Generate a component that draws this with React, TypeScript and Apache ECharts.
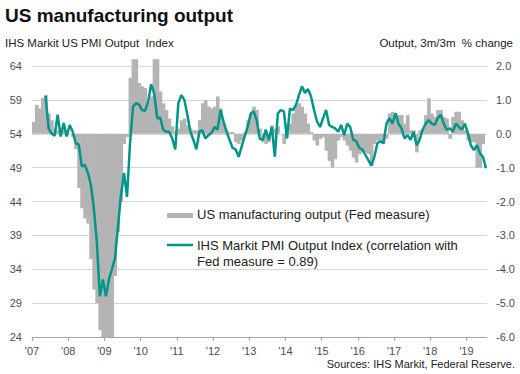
import React, { useEffect, useRef } from "react";
import * as echarts from "echarts";

// Fed manufacturing output, 3m/3m % change, monthly from Jan 2007 (right axis)
const fedStartYear = 2007;
const fedOutput = [
  // 2007
  0.35, 0.85, 0.75, 1.05, 1.15, 0.6, 0.4, 0.15, 0.1, 0.05, 0.1, 0.05,
  // 2008
  0.0, -0.1, -0.45, -1.6, -2.2, -2.5, -2.65, -3.7, -4.6, -5.0, -5.8, -6.0,
  // 2009
  -6.0, -6.0, -6.0, -4.2, -2.9, -2.0, -0.3, -0.1, 1.65, 2.2, 2.2, 1.5,
  // 2010
  1.4, 1.35, 0.9, 1.1, 2.2, 2.2, 1.25, 0.9, 0.7, 0.45, 0.22, 0.07,
  // 2011
  0.15, 0.4, 0.45, 0.25, 0.15, 0.1, 0.1, 0.4, 0.9, 1.0, 0.8, 0.75,
  // 2012
  0.8, 1.1, 0.75, 0.3, 0.1, 0.05, 0.05, -0.25, -0.3, -0.2, 0.05, 0.4,
  // 2013
  0.6, 0.8, 0.7, 0.15, -0.25, -0.3, -0.25, 0.25, 0.15, 0.22, 0.0, -0.3,
  // 2014
  -0.1, 0.3, 0.6, 0.8, 0.9, 0.8, 0.6, 0.3, 0.05, -0.2, -0.35, -0.15,
  // 2015
  -0.1, -0.5, -0.8, -1.0, -0.75, -0.2, -0.1, -0.2, -0.35, -0.5, -0.7, -0.85,
  // 2016
  -0.6, -0.55, -0.55, -0.6, -0.95, -0.3, -0.2, -0.25, -0.3, -0.15, 0.6, 0.65,
  // 2017
  0.6, 0.55, 0.55, 0.3, 0.55, 0.1, 0.1, -0.55, 0.1, 0.15, 0.55, 1.05,
  // 2018
  0.6, 0.5, 0.7, 0.7, 0.5, 0.45, -0.15, 0.5, 0.65, 0.65, 0.4, 0.1,
  // 2019
  -0.2, -0.25, -0.25, -1.0, -1.0, -0.3,
];

// IHS Markit US PMI Output Index, monthly from May 2007 (left axis)
const pmiStartMonth = 4; // months after Jan 2007
const pmiOutput = [
  // 2007 (May-Dec)
  59.6, 54.8, 54.0, 53.7, 56.8, 53.6, 55.6, 53.6,
  // 2008
  55.3, 54.3, 52.6, 52.4, 49.2, 49.4, 48.3, 46.5, 43.0, 38.0, 30.0, 32.5,
  // 2009
  30.0, 32.5, 34.0, 35.6, 40.3, 45.0, 48.2, 44.7, 52.6, 58.0, 58.5, 58.3,
  // 2010
  57.5, 57.4, 58.7, 61.3, 60.0, 56.3, 56.4, 54.6, 54.3, 54.3, 53.3, 51.7,
  // 2011
  58.5, 59.7, 59.0, 56.8, 54.3, 53.1, 51.7, 54.3, 54.5, 53.3, 53.8, 54.1,
  // 2012
  55.0, 54.6, 57.5, 55.8, 54.3, 53.1, 51.9, 51.7, 50.6, 52.1, 53.6, 55.0,
  // 2013
  57.0, 57.3, 56.0, 53.3, 53.1, 54.6, 53.1, 55.0, 50.6, 57.0, 57.5, 57.3,
  // 2014
  53.3, 57.7, 57.5, 58.2, 59.7, 61.0, 60.0, 60.6, 59.5, 57.5, 55.8, 55.0,
  // 2015
  56.3, 57.5, 55.3, 55.0, 54.8, 54.3, 55.3, 53.8, 55.5, 55.0, 53.1, 52.9,
  // 2016
  51.9, 51.7, 50.9, 50.1, 49.3, 50.6, 52.6, 52.9, 52.6, 55.5, 56.3, 55.5,
  // 2017
  57.0, 55.5, 54.8, 53.3, 53.8, 53.1, 54.3, 52.3, 53.1, 54.6, 55.5, 56.0,
  // 2018
  55.5, 55.3, 56.3, 56.8, 55.5, 54.6, 54.8, 54.3, 55.5, 55.0, 54.6, 55.5,
  // 2019 (Jan-Jul)
  54.1, 52.3, 51.6, 52.3, 51.1, 50.6, 48.9,
];

const yearTicks = [2007, 2008, 2009, 2010, 2011, 2012, 2013, 2014, 2015, 2016, 2017, 2018, 2019];

const titleText = "US manufacturing output";
const leftAxisTitle = "IHS Markit US PMI Output  Index";
const rightAxisTitle = "Output, 3m/3m  % change";
const legendBar = "US manufacturing output (Fed measure)";
const legendLine = "IHS Markit PMI Output Index (correlation with\nFed measure = 0.89)";
const sourceText = "Sources: IHS Markit, Federal Reserve.";

const FONT = "'Liberation Sans', Arial, Helvetica, sans-serif";
const BAR_COLOR = "#b4b4b4";
const LINE_COLOR = "#00958a";
const LABEL_COLOR = "#4d4d4d";

export default function App() {
  const ref = useRef<HTMLDivElement>(null);

  useEffect(() => {
    if (!ref.current) return;
    const chart = echarts.init(ref.current, null, { renderer: "svg" });
    const monthX = (m: number) => fedStartYear + (m + 0.5) / 12;
    const halfMonth = 1 / 24;

    const option: any = {
      animation: false,
      backgroundColor: "#ffffff",
      grid: { left: 32, right: 33, top: 66, bottom: 37, containLabel: false },
      xAxis: {
        type: "value",
        min: 2007,
        max: 2019.57,
        interval: 1,
        axisLine: { show: true, onZero: false, lineStyle: { color: "#a6a6a6", width: 1 } },
        axisTick: { show: true, length: 4, customValues: yearTicks, lineStyle: { color: "#a6a6a6" } },
        axisLabel: {
          customValues: yearTicks,
          formatter: (v: number) => "'" + String(Math.round(v)).slice(2),
          fontSize: 11,
          color: LABEL_COLOR,
          fontFamily: FONT,
          margin: 8,
        },
        splitLine: { show: false },
      },
      yAxis: [
        {
          type: "value",
          min: 24,
          max: 64,
          interval: 5,
          position: "left",
          axisLine: { show: false },
          axisTick: { show: false },
          axisLabel: { fontSize: 11, color: LABEL_COLOR, fontFamily: FONT, margin: 10 },
          splitLine: { show: true, lineStyle: { color: "#d6d6d6", width: 1 } },
        },
        {
          type: "value",
          min: -6,
          max: 2,
          interval: 1,
          position: "right",
          axisLine: { show: false },
          axisTick: { show: false },
          axisLabel: {
            fontSize: 11,
            color: LABEL_COLOR,
            fontFamily: FONT,
            margin: 9,
            align: "left",
            formatter: (v: number) => v.toFixed(1),
          },
          splitLine: { show: false },
        },
      ],
      series: [
        {
          name: legendBar,
          type: "custom",
          yAxisIndex: 1,
          clip: false,
          encode: { x: 0, y: 1 },
          data: fedOutput.map((v, i) => [monthX(i), v]),
          renderItem: (params: any, api: any) => {
            const x = api.value(0);
            const v = api.value(1);
            const a = api.coord([x - halfMonth, 0]);
            const b = api.coord([x + halfMonth, v]);
            const top = Math.min(a[1], b[1]);
            return {
              type: "rect",
              shape: {
                x: a[0],
                y: top,
                width: b[0] - a[0] + 0.6,
                height: Math.abs(b[1] - a[1]),
              },
              style: { fill: BAR_COLOR },
            };
          },
          z: 2,
        },
        {
          name: "IHS Markit PMI Output Index",
          type: "line",
          yAxisIndex: 0,
          showSymbol: false,
          symbol: "none",
          lineStyle: { color: LINE_COLOR, width: 2.5 },
          data: pmiOutput.map((v, i) => [monthX(i + pmiStartMonth), v]),
          z: 3,
        },
      ],
      graphic: [
        {
          type: "text",
          left: 5,
          top: 6,
          style: { text: titleText, font: `bold 19px ${FONT}`, fill: "#111111" },
        },
        {
          type: "text",
          left: 5,
          top: 37,
          style: { text: leftAxisTitle, font: `11.5px ${FONT}`, fill: "#222222" },
        },
        {
          type: "text",
          right: 7,
          top: 37,
          style: { text: rightAxisTitle, font: `11.5px ${FONT}`, fill: "#222222" },
        },
        {
          type: "rect",
          shape: { x: 167, y: 213, width: 26, height: 5 },
          style: { fill: BAR_COLOR },
        },
        {
          type: "text",
          left: 197,
          top: 208,
          style: { text: legendBar, font: `13px ${FONT}`, fill: "#222222" },
        },
        {
          type: "line",
          shape: { x1: 167, y1: 245, x2: 193, y2: 245 },
          style: { stroke: LINE_COLOR, lineWidth: 2.5 },
        },
        {
          type: "text",
          left: 197,
          top: 237,
          style: { text: legendLine, font: `13px ${FONT}`, fill: "#222222", lineHeight: 16 },
        },
        {
          type: "text",
          right: 5,
          top: 358,
          style: { text: sourceText, font: `11px ${FONT}`, fill: "#222222" },
        },
      ],
    };

    chart.setOption(option);
    return () => chart.dispose();
  }, []);

  return (
    <div
      ref={ref}
      style={{ position: "absolute", left: 0, top: 0, width: 520, height: 374 }}
    />
  );
}
